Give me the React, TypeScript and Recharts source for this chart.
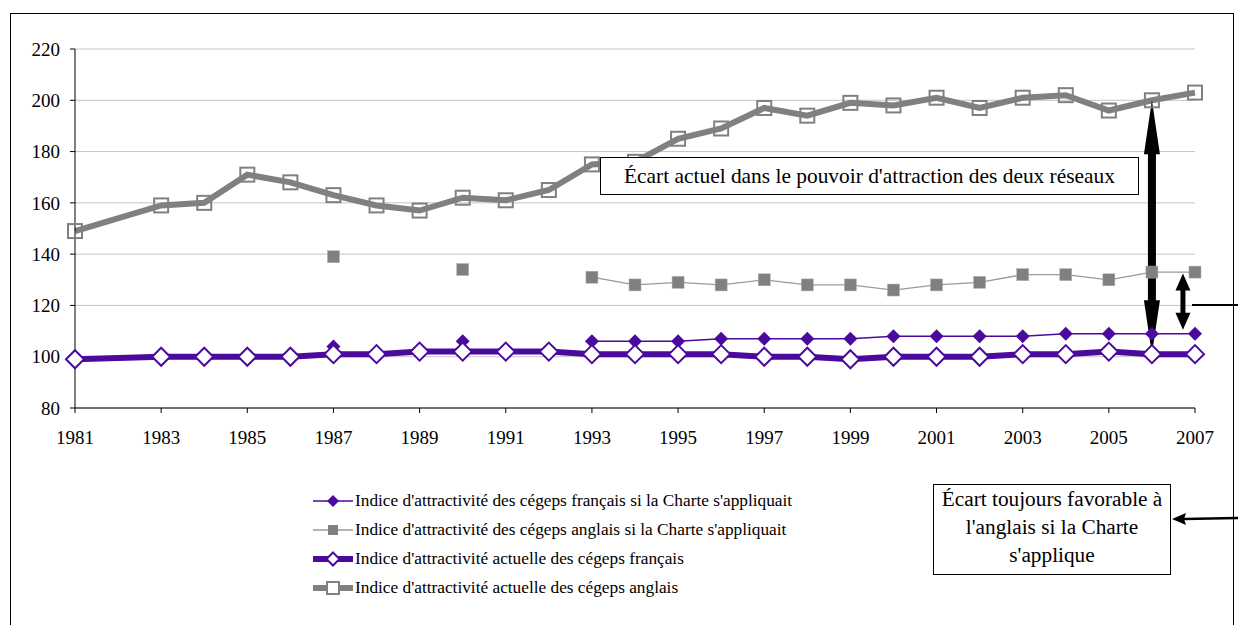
import React from 'react';
import { LineChart, Line, XAxis, YAxis, CartesianGrid, Legend, ReferenceLine } from 'recharts';

const years = [1981, 1983, 1984, 1985, 1986, 1987, 1988, 1989, 1990, 1991, 1992, 1993, 1994, 1995, 1996, 1997, 1998, 1999, 2000, 2001, 2002, 2003, 2004, 2005, 2006, 2007];
const frenchCharter = [null, null, null, null, null, 104, null, null, 106, null, null, 106, 106, 106, 107, 107, 107, 107, 108, 108, 108, 108, 109, 109, 109, 109];
const englishCharter = [null, null, null, null, null, 139, null, null, 134, null, null, 131, 128, 129, 128, 130, 128, 128, 126, 128, 129, 132, 132, 130, 133, 133];
const frenchCurrent = [99, 100, 100, 100, 100, 101, 101, 102, 102, 102, 102, 101, 101, 101, 101, 100, 100, 99, 100, 100, 100, 101, 101, 102, 101, 101];
const englishCurrent = [149, 159, 160, 171, 168, 163, 159, 157, 162, 161, 165, 175, 176, 185, 189, 197, 194, 199, 198, 201, 197, 201, 202, 196, 200, 203];

const xTicks = [1981, 1983, 1985, 1987, 1989, 1991, 1993, 1995, 1997, 1999, 2001, 2003, 2005, 2007];
const yTicks = [80, 100, 120, 140, 160, 180, 200, 220];

const seriesNames = {
  fc: "Indice d'attractivité des cégeps français si la Charte s'appliquait",
  ec: "Indice d'attractivité des cégeps anglais si la Charte s'appliquait",
  fa: "Indice d'attractivité actuelle des cégeps français",
  ea: "Indice d'attractivité actuelle des cégeps anglais",
};

const gapNow = { year: 2006, top: 200, bottom: 101 };
const gapCharter = { year: 2006.72, top: 132.5, bottom: 110.5 };

const boxText1 = "Écart actuel dans le pouvoir d'attraction des deux réseaux";
const boxText2 = ["Écart toujours favorable à", "l'anglais si la Charte", "s'applique"];

const data = years.map((y, i) => ({
  year: y,
  fc: frenchCharter[i],
  ec: englishCharter[i],
  fa: frenchCurrent[i],
  ea: englishCurrent[i],
}));

const PURPLE = '#4a0a9e';
const GRAY = '#808080';
const FONT = 'Liberation Serif, Tinos, serif';

const diamondPath = (cx: number, cy: number, s: number) => {
  const h = s / 2;
  return `M${cx},${cy - h}L${cx + h},${cy}L${cx},${cy + h}L${cx - h},${cy}Z`;
};

const makeDiamond = (size: number, fill: string, stroke: string, sw: number) => (props: any) => {
  const { cx, cy, index, value } = props;
  if (cx == null || cy == null || value == null || Number.isNaN(cy)) return <g key={`d${index}`} />;
  return <path key={`d${index}`} d={diamondPath(cx, cy, size)} fill={fill} stroke={stroke} strokeWidth={sw} />;
};

const makeSquare = (size: number, fill: string, stroke: string, sw: number) => (props: any) => {
  const { cx, cy, index, value } = props;
  if (cx == null || cy == null || value == null || Number.isNaN(cy)) return <g key={`s${index}`} />;
  return <rect key={`s${index}`} x={cx - size / 2} y={cy - size / 2} width={size} height={size} fill={fill} stroke={stroke} strokeWidth={sw} />;
};

const makeDoubleArrow = (shaft: number, headW: number, headL: number) => (props: any) => {
  const { x1, y1, y2 } = props;
  const x = x1;
  const top = Math.min(y1, y2);
  const bot = Math.max(y1, y2);
  const s = shaft / 2;
  const h = headW / 2;
  const d = `M${x},${top}L${x + h},${top + headL}L${x + s},${top + headL}L${x + s},${bot - headL}L${x + h},${bot - headL}L${x},${bot}L${x - h},${bot - headL}L${x - s},${bot - headL}L${x - s},${top + headL}L${x - h},${top + headL}Z`;
  return <path d={d} fill="#000" stroke="none" />;
};

const legendIcon = (key: string) => {
  if (key === 'fc')
    return (
      <svg width={40} height={16}>
        <line x1={0} y1={8} x2={40} y2={8} stroke={PURPLE} strokeWidth={1.5} />
        <path d={diamondPath(20, 8, 12)} fill={PURPLE} />
      </svg>
    );
  if (key === 'ec')
    return (
      <svg width={40} height={16}>
        <line x1={0} y1={8} x2={40} y2={8} stroke="#9a9a9a" strokeWidth={1.5} />
        <rect x={15} y={3} width={10} height={10} fill={GRAY} />
      </svg>
    );
  if (key === 'fa')
    return (
      <svg width={40} height={16}>
        <line x1={0} y1={8} x2={40} y2={8} stroke={PURPLE} strokeWidth={6} />
        <path d={diamondPath(20, 8, 13)} fill="#fff" stroke={PURPLE} strokeWidth={2} />
      </svg>
    );
  return (
    <svg width={40} height={16}>
      <line x1={0} y1={8} x2={40} y2={8} stroke={GRAY} strokeWidth={6} />
      <rect x={14} y={2} width={12} height={12} fill="#fff" stroke={GRAY} strokeWidth={2} />
    </svg>
  );
};

const renderLegend = () => (
  <div style={{ fontFamily: FONT, fontSize: 17.3, color: '#000' }}>
    {(['fc', 'ec', 'fa', 'ea'] as const).map((k) => (
      <div key={k} style={{ display: 'flex', alignItems: 'center', height: 29, whiteSpace: 'nowrap', fontFamily: FONT }}>
        <span style={{ width: 42, display: 'inline-block', lineHeight: 0 }}>{legendIcon(k)}</span>
        <span style={{ fontFamily: FONT }}>{seriesNames[k]}</span>
      </div>
    ))}
  </div>
);

export default function App() {
  const tickStyle = { fontFamily: FONT, fontSize: 19, fill: '#000' };
  return (
    <div style={{ position: 'absolute', left: 0, top: 0, width: 1238, height: 625, overflow: 'hidden', background: '#fff', fontFamily: FONT }}>
      <div style={{ position: 'absolute', left: 10, top: 13, width: 1222, height: 700, border: '1px solid #000' }} />
      <div style={{ position: 'absolute', left: 0, top: 0 }}>
        <LineChart width={1238} height={625} data={data} margin={{ top: 49, right: 43, left: 10, bottom: 177 }} style={{ fontFamily: FONT }}>
          <CartesianGrid horizontal vertical={false} stroke="#c4c4c4" strokeWidth={1} />
          <XAxis
            dataKey="year"
            type="number"
            domain={[1981, 2007]}
            ticks={xTicks}
            interval={0}
            height={40}
            tickSize={5}
            tickMargin={18}
            axisLine={{ stroke: '#000', strokeWidth: 1 }}
            tickLine={{ stroke: '#000' }}
            tick={tickStyle}
          />
          <YAxis
            domain={[80, 220]}
            ticks={yTicks}
            interval={0}
            width={65}
            tickSize={5}
            tickMargin={10}
            axisLine={{ stroke: '#000', strokeWidth: 1 }}
            tickLine={{ stroke: '#000' }}
            tick={tickStyle}
          />
          <Legend
            layout="vertical"
            align="center"
            verticalAlign="middle"
            content={renderLegend}
            wrapperStyle={{ position: 'absolute', left: 313, top: 486, width: 620, height: 120 }}
          />
          <Line
            dataKey="fc"
            name={seriesNames.fc}
            stroke={PURPLE}
            strokeWidth={1.5}
            dot={makeDiamond(14, PURPLE, PURPLE, 0)}
            activeDot={false}
            isAnimationActive={false}
          />
          <Line
            dataKey="ec"
            name={seriesNames.ec}
            stroke="#9a9a9a"
            strokeWidth={1.3}
            dot={makeSquare(12, GRAY, '#b0b0b0', 0.5)}
            activeDot={false}
            isAnimationActive={false}
          />
          <Line
            dataKey="fa"
            name={seriesNames.fa}
            stroke={PURPLE}
            strokeWidth={6}
            dot={makeDiamond(18, '#fff', PURPLE, 2)}
            activeDot={false}
            isAnimationActive={false}
          />
          <Line
            dataKey="ea"
            name={seriesNames.ea}
            stroke={GRAY}
            strokeWidth={6}
            dot={makeSquare(14, 'none', GRAY, 2)}
            activeDot={false}
            isAnimationActive={false}
          />
          <ReferenceLine
            segment={[{ x: gapNow.year, y: gapNow.top }, { x: gapNow.year, y: gapNow.bottom }]}
            shape={makeDoubleArrow(8, 16, 54)}
          />
          <ReferenceLine
            segment={[{ x: gapCharter.year, y: gapCharter.top }, { x: gapCharter.year, y: gapCharter.bottom }]}
            shape={makeDoubleArrow(5, 15, 17)}
          />
        </LineChart>
      </div>
      <div
        style={{
          position: 'absolute', left: 600, top: 157, width: 537, height: 36, border: '1px solid #000', background: '#fff',
          fontFamily: FONT, fontSize: 21.4, lineHeight: '36px', textAlign: 'center', whiteSpace: 'nowrap', color: '#000',
        }}
      >
        {boxText1}
      </div>
      <div
        style={{
          position: 'absolute', left: 933, top: 484, width: 238, height: 91, border: '1px solid #000', background: '#fff',
          fontFamily: FONT, fontSize: 21.3, lineHeight: '28px', textAlign: 'center', color: '#000', paddingTop: 0, boxSizing: 'border-box',
        }}
      >
        {boxText2.map((t, i) => (
          <div key={i} style={{ whiteSpace: 'nowrap' }}>{t}</div>
        ))}
      </div>
      <svg style={{ position: 'absolute', left: 0, top: 0 }} width={1238} height={625}>
        <line x1={1192} y1={305} x2={1238} y2={305} stroke="#000" strokeWidth={2} />
        <line x1={1184} y1={519} x2={1238} y2={518} stroke="#000" strokeWidth={2.5} />
        <path d="M1172,519L1186,513L1184,519L1186,525Z" fill="#000" />
      </svg>
    </div>
  );
}
